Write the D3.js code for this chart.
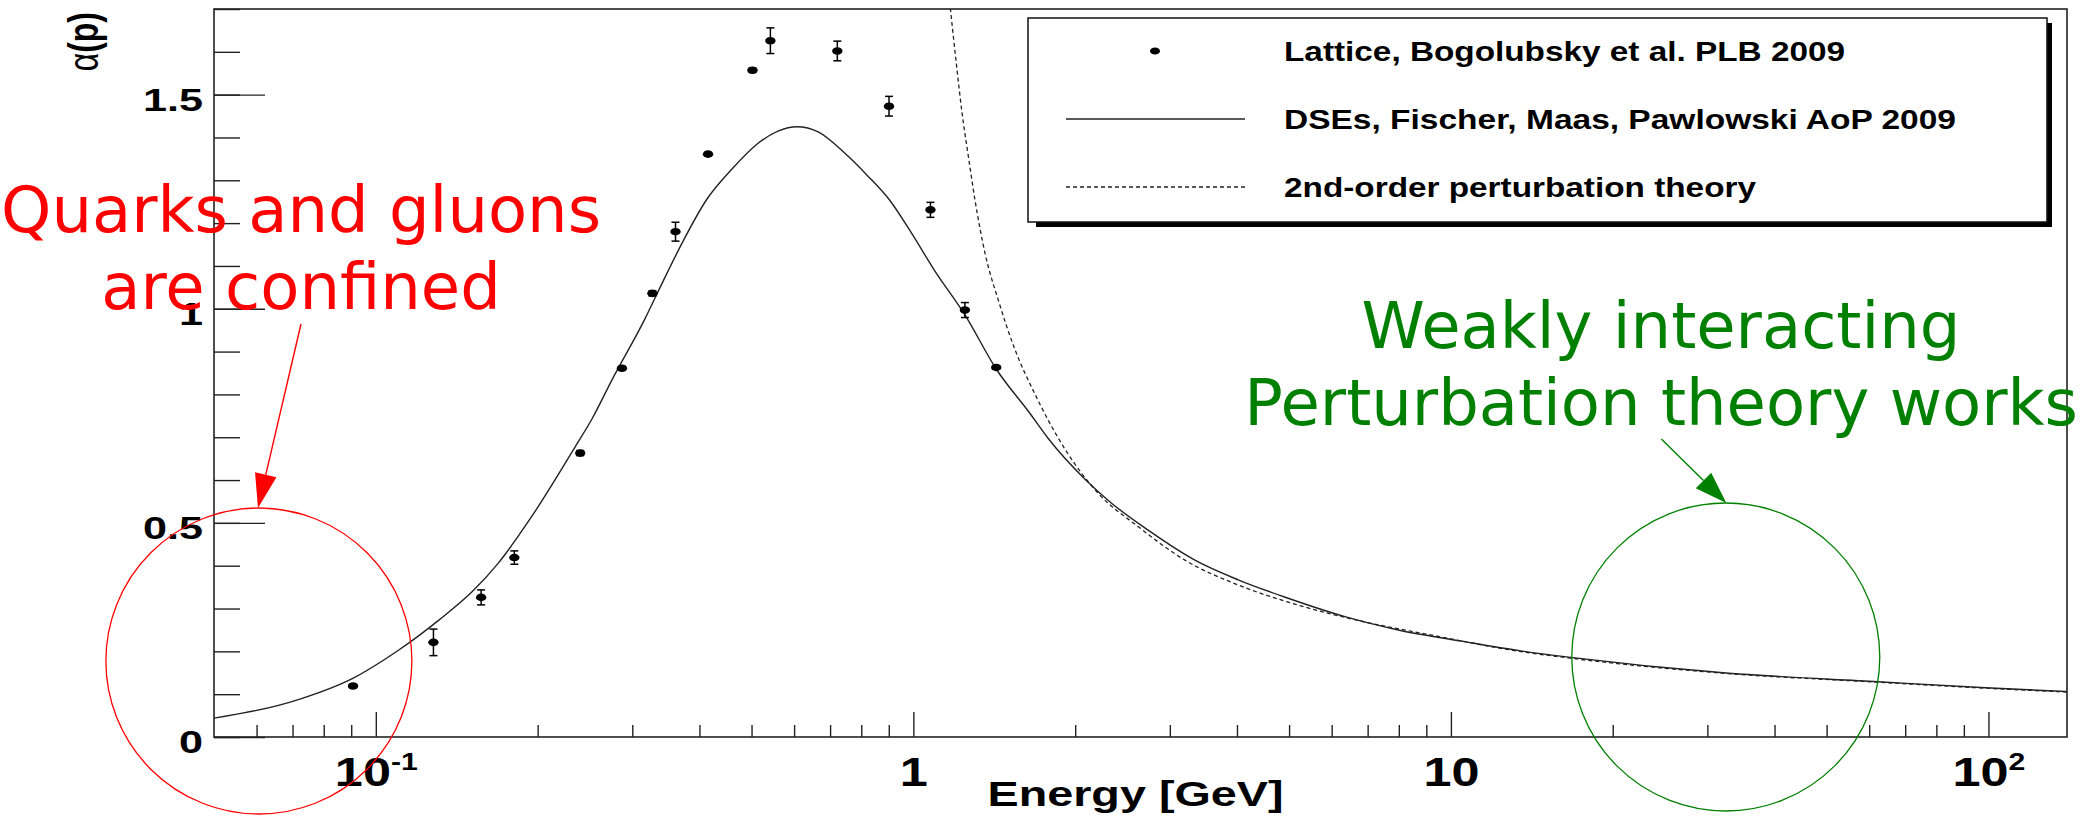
<!DOCTYPE html>
<html><head><meta charset="utf-8">
<script src="https://cdn.jsdelivr.net/npm/d3@7"></script>
<style>body{margin:0;background:#fff}svg{display:block}</style>
</head><body>
<svg id="chart" width="2089" height="816"></svg>
<script>
// ---------- data ----------
const latticeE   = [0.0907,0.128,0.157,0.181,0.240,0.287,0.327,0.361,0.415,0.502,0.542,0.722,0.901,1.076,1.247,1.426];
const latticeA   = [0.119,0.221,0.326,0.419,0.663,0.861,1.036,1.180,1.361,1.557,1.626,1.602,1.473,1.231,0.997,0.863];
const latticeErr = [0.004,0.031,0.0175,0.0156,0.006,0.004,0.006,0.022,0.004,0.005,0.030,0.023,0.023,0.0175,0.0175,0.004];

const dseE = [0.05,0.072,0.0906,0.110,0.131,0.151,0.169,0.195,0.235,0.253,0.275,0.316,0.341,0.374,0.412,0.458,0.509,0.560,0.608,0.665,0.746,0.820,0.903,0.993,1.093,1.248,1.43,1.638,1.782,2.086,2.337,2.734,3.34,4.02,4.98,6.35,7.98,10.6,13.4,16.7,32.1,62.3,98.8,140];
const dseA = [0.044,0.088,0.137,0.202,0.273,0.339,0.406,0.515,0.678,0.745,0.834,0.974,1.060,1.161,1.254,1.324,1.382,1.415,1.425,1.413,1.363,1.312,1.254,1.176,1.091,0.985,0.857,0.760,0.697,0.602,0.546,0.483,0.413,0.367,0.324,0.281,0.250,0.2226,0.2016,0.186,0.150,0.129,0.115,0.106];

const ptE = [1.15,1.172,1.204,1.230,1.266,1.302,1.359,1.439,1.545,1.68,1.915,2.207,2.621,3.2,4.02,5.2,6.9,9.2,13.4,16.7,32.1,62.3,98.8,140];
const ptA = [1.80,1.700,1.565,1.464,1.355,1.254,1.130,1.020,0.905,0.803,0.672,0.569,0.491,0.413,0.355,0.308,0.269,0.238,0.200,0.184,0.149,0.128,0.114,0.105];

const xDomain = [0.05, 140];
const yDomain = [0, 1.7];
const xMajorTicks = [0.1, 1, 10, 100];
const xTickBase = ["10", "1", "10", "10"];
const xTickExp  = ["-1", "", "", "2"];
const yMajorTicks = [0, 0.5, 1, 1.5];
const yTickLabels = ["0", "0.5", "1", "1.5"];
const xTitle = "Energy [GeV]";
const yTitleSym = "\u03B1", yTitleRest = "(p)";
const legendLabels = ["Lattice, Bogolubsky et al. PLB 2009", "DSEs, Fischer, Maas, Pawlowski AoP 2009", "2nd-order perturbation theory"];
const legendTextWidths = [561, 672, 472];

const redLines = ["Quarks and gluons", "are confined"];
const greenLines = ["Weakly interacting", "Perturbation theory works"];
// annotation anchors in data coordinates [energy, alpha]
const redCircle = [0.0606, 0.1775], greenCircle = [32.46, 0.1868];
const redArrow = [[0.07258, 0.9645], [0.06037, 0.5348]];
const greenArrow = [[24.63, 0.696], [32.53, 0.5465]];

// ---------- layout ----------
const L = 214, R = 2067, T = 9, B = 737;
const svg = d3.select("#chart");
const x = d3.scaleLog().domain(xDomain).range([L, R]);
const y = d3.scaleLinear().domain(yDomain).range([B, T]);
const ROOTFONT = "'Liberation Sans', Arial, Helvetica, sans-serif";
const NOTEFONT = "'DejaVu Sans', Verdana, sans-serif";

svg.append("defs").append("clipPath").attr("id","plotclip")
  .append("rect").attr("x",L).attr("y",T).attr("width",R-L).attr("height",B-T);

// ---------- axes ----------
const axCol = "#222";
function styleAxis(g){ g.select(".domain").remove(); g.selectAll("line").attr("stroke",axCol).attr("stroke-width",1.4); }

const xMinor = [];
[0.01,0.1,1,10,100].forEach(d=>{ for(let k=2;k<=9;k++){ const v=k*d; if(v>xDomain[0]&&v<xDomain[1]) xMinor.push(v);} });
svg.append("g").attr("transform",`translate(0,${B})`)
  .call(d3.axisBottom(x).tickValues(xMinor).tickSize(-12).tickFormat(""))
  .call(styleAxis);
const gx = svg.append("g").attr("transform",`translate(0,${B})`)
  .call(d3.axisBottom(x).tickValues(xMajorTicks).tickSize(-25).tickFormat(""))
  .call(styleAxis);
gx.selectAll(".tick").each(function(d,i){
  const t = d3.select(this).append("text")
    .attr("transform","translate(0,49) scale(1.26,1)")
    .attr("text-anchor","middle").attr("fill","#000")
    .style("font-family",ROOTFONT).style("font-weight","bold").style("font-size","40px");
  t.append("tspan").text(xTickBase[i]);
  if(xTickExp[i]) t.append("tspan").attr("dy",-16).style("font-size","24px").text(xTickExp[i]);
});

const yMinor = d3.range(0, 17.5).map(v=>v/10).filter(v=>v<=yDomain[1]+1e-9);
svg.append("g").attr("transform",`translate(${L},0)`)
  .call(d3.axisLeft(y).tickValues(yMinor).tickSize(-26).tickFormat(""))
  .call(styleAxis);
const gy = svg.append("g").attr("transform",`translate(${L},0)`)
  .call(d3.axisLeft(y).tickValues(yMajorTicks).tickSize(-51).tickFormat(""))
  .call(styleAxis);
gy.selectAll(".tick").each(function(d,i){
  d3.select(this).append("text")
    .attr("transform","translate(-11,15.5) scale(1.35,1)")
    .attr("text-anchor","end").attr("fill","#000")
    .style("font-family",ROOTFONT).style("font-weight","bold").style("font-size","32px")
    .text(yTickLabels[i]);
});

svg.append("rect").attr("x",L).attr("y",T).attr("width",R-L).attr("height",B-T)
  .attr("fill","none").attr("stroke",axCol).attr("stroke-width",1.6);

svg.append("text").attr("x",(L+R)/2-5).attr("y",806).attr("text-anchor","middle")
  .attr("textLength",296).attr("lengthAdjust","spacingAndGlyphs")
  .style("font-family",ROOTFONT).style("font-weight","bold").style("font-size","35px")
  .text(xTitle);
const yt = svg.append("text").attr("transform","translate(98,12) rotate(-90) scale(1,1.35)")
  .attr("text-anchor","end").style("font-family",ROOTFONT).style("font-size","32px");
yt.append("tspan").text(yTitleSym);
yt.append("tspan").style("font-weight","bold").text(yTitleRest);

// ---------- curves ----------
const plot = svg.append("g").attr("clip-path","url(#plotclip)");
const line = d3.line().x(d=>x(d[0])).y(d=>y(d[1])).curve(d3.curveMonotoneX);
plot.append("path").datum(ptE.map((e,i)=>[e,ptA[i]])).attr("d",line)
  .attr("fill","none").attr("stroke","#222").attr("stroke-width",1.3).attr("stroke-dasharray","4,3");
plot.append("path").datum(dseE.map((e,i)=>[e,dseA[i]])).attr("d",line)
  .attr("fill","none").attr("stroke","#222").attr("stroke-width",1.4);

const pts = plot.append("g").selectAll("g").data(latticeE.map((e,i)=>({e,a:latticeA[i],err:latticeErr[i]}))).join("g");
pts.append("line").attr("x1",d=>x(d.e)).attr("x2",d=>x(d.e)).attr("y1",d=>y(d.a-d.err)).attr("y2",d=>y(d.a+d.err))
  .attr("stroke","#000").attr("stroke-width",1.5);
pts.append("line").attr("x1",d=>x(d.e)-4).attr("x2",d=>x(d.e)+4).attr("y1",d=>y(d.a+d.err)).attr("y2",d=>y(d.a+d.err))
  .attr("stroke","#000").attr("stroke-width",1.5);
pts.append("line").attr("x1",d=>x(d.e)-4).attr("x2",d=>x(d.e)+4).attr("y1",d=>y(d.a-d.err)).attr("y2",d=>y(d.a-d.err))
  .attr("stroke","#000").attr("stroke-width",1.5);
pts.append("ellipse").attr("cx",d=>x(d.e)).attr("cy",d=>y(d.a)).attr("rx",5.2).attr("ry",3.8).attr("fill","#000");

// ---------- legend ----------
const lg = {x:1028, y:18, w:1019, h:204};
svg.append("rect").attr("x",lg.x+8).attr("y",lg.y+5).attr("width",lg.w-3).attr("height",lg.h).attr("fill","#000");
svg.append("rect").attr("x",lg.x).attr("y",lg.y).attr("width",lg.w).attr("height",lg.h)
  .attr("fill","#fff").attr("stroke","#111").attr("stroke-width",1.5);
const rowY = [51, 119, 187];
svg.append("ellipse").attr("cx",1155).attr("cy",rowY[0]).attr("rx",5).attr("ry",3.6).attr("fill","#000");
svg.append("line").attr("x1",1066).attr("x2",1245).attr("y1",rowY[1]).attr("y2",rowY[1]).attr("stroke","#222").attr("stroke-width",1.4);
svg.append("line").attr("x1",1066).attr("x2",1245).attr("y1",rowY[2]).attr("y2",rowY[2]).attr("stroke","#222").attr("stroke-width",1.3).attr("stroke-dasharray","4,3");
legendLabels.forEach((s,i)=>{
  svg.append("text").attr("x",1284).attr("y",rowY[i]+9.5)
    .attr("textLength",legendTextWidths[i]).attr("lengthAdjust","spacingAndGlyphs")
    .style("font-family",ROOTFONT).style("font-weight","bold").style("font-size","27px").text(s);
});

// ---------- annotations ----------
function arrow(p0, p1, col, headL, headW){
  const [x0,y0]=[x(p0[0]),y(p0[1])],[x1,y1]=[x(p1[0]),y(p1[1])];
  const dx=x1-x0, dy=y1-y0, len=Math.hypot(dx,dy), ux=dx/len, uy=dy/len;
  const bx=x1-ux*headL, by=y1-uy*headL;
  svg.append("line").attr("x1",x0).attr("y1",y0).attr("x2",bx).attr("y2",by).attr("stroke",col).attr("stroke-width",1.4);
  svg.append("path").attr("d",`M${x1},${y1}L${bx-uy*headW},${by+ux*headW}L${bx+uy*headW},${by-ux*headW}Z`).attr("fill",col);
}
svg.append("circle").attr("cx",x(redCircle[0])).attr("cy",y(redCircle[1])).attr("r",153)
  .attr("fill","none").attr("stroke","#ff0000").attr("stroke-width",1.3);
svg.append("circle").attr("cx",x(greenCircle[0])).attr("cy",y(greenCircle[1])).attr("r",154)
  .attr("fill","none").attr("stroke","#008000").attr("stroke-width",1.3);
arrow(redArrow[0], redArrow[1], "#ff0000", 34, 11);
arrow(greenArrow[0], greenArrow[1], "#008000", 32, 11);

redLines.forEach((s,i)=>{
  svg.append("text").attr("x",301).attr("y",[232,309][i]).attr("text-anchor","middle")
    .attr("fill","#ff0000").style("font-family",NOTEFONT).style("font-size","64px").text(s);
});
greenLines.forEach((s,i)=>{
  svg.append("text").attr("x",1661).attr("y",[348,425][i]).attr("text-anchor","middle")
    .attr("fill","#008000").style("font-family",NOTEFONT).style("font-size","64px").text(s);
});
</script>
</body></html>
